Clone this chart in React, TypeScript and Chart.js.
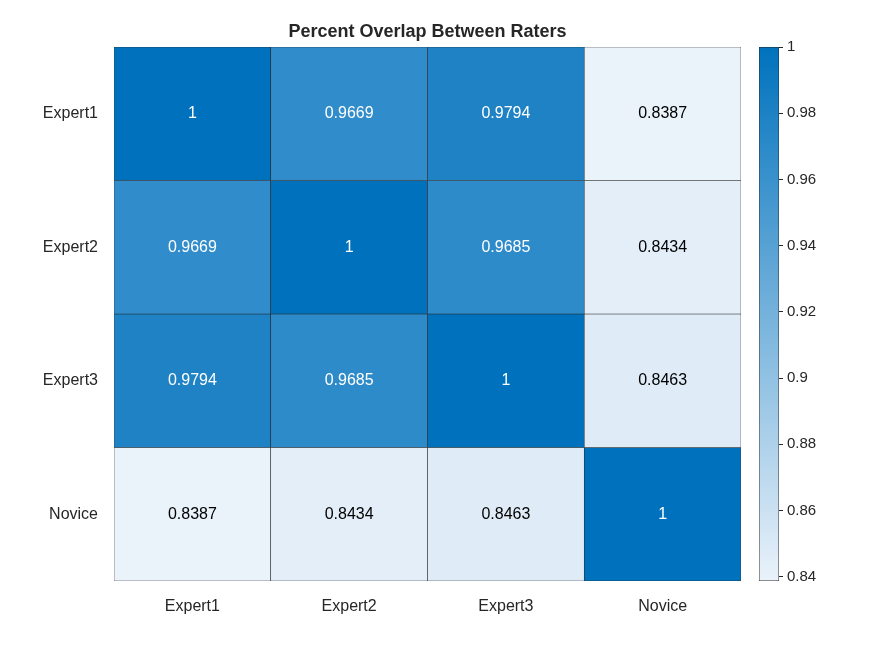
import React, { useEffect, useRef } from "react";
import Chart from "chart.js/auto";

const raters = ["Expert1", "Expert2", "Expert3", "Novice"];
const overlap = [
  [1, 0.9669, 0.9794, 0.8387],
  [0.9669, 1, 0.9685, 0.8434],
  [0.9794, 0.9685, 1, 0.8463],
  [0.8387, 0.8434, 0.8463, 1],
];
const barTicks = [0.84, 0.86, 0.88, 0.9, 0.92, 0.94, 0.96, 0.98, 1];
const cMin = 0.8387;
const cMax = 1;

const lo = [234, 242, 250];
const hi = [0, 114, 189];
function colorFor(v: number) {
  const t = Math.max(0, Math.min(1, (v - cMin) / (cMax - cMin)));
  const c = lo.map((l, i) => Math.round(l + (hi[i] - l) * t));
  return `rgb(${c[0]},${c[1]},${c[2]})`;
}

const FONT = "'Liberation Sans', Arial, sans-serif";

const App: React.FC = () => {
  const mainRef = useRef<HTMLCanvasElement>(null);
  const barRef = useRef<HTMLCanvasElement>(null);

  useEffect(() => {
    let main: Chart | null = null;
    let bar: Chart | null = null;
    if (mainRef.current && barRef.current) {
      const labelPlugin = {
        id: "cellLabels",
        afterDatasetsDraw(chart: any) {
          const ctx = chart.ctx;
          ctx.save();
          ctx.font = `16px ${FONT}`;
          ctx.textAlign = "center";
          ctx.textBaseline = "middle";
          chart.data.datasets.forEach((ds: any, r: number) => {
            chart.getDatasetMeta(r).data.forEach((el: any, c: number) => {
              const v = overlap[r][c];
              ctx.fillStyle = v > 0.9 ? "#ffffff" : "#000000";
              const yc = (el.y + el.base) / 2;
              ctx.fillText(String(v), el.x, yc);
            });
          });
          ctx.font = `bold 18px ${FONT}`;
          ctx.fillStyle = "#262626";
          ctx.fillText("Percent Overlap Between Raters", (chart.chartArea.left + chart.chartArea.right) / 2, 32);
          ctx.restore();
        },
      };
      main = new Chart(mainRef.current, {
        type: "bar",
        data: {
          labels: raters,
          datasets: overlap.map((row, r) => ({
            label: raters[r],
            data: row.map(() => [r, r + 1]) as any,
            backgroundColor: row.map(colorFor),
            borderColor: "#262626",
            borderWidth: 0.6,
            borderSkipped: false,
            barPercentage: 1,
            categoryPercentage: 1,
            grouped: false,
          })),
        },
        options: {
          animation: false,
          responsive: false,
          layout: { padding: { top: 47, right: 134, left: 0, bottom: 0 } },
          plugins: { legend: { display: false }, tooltip: { enabled: false }, title: { display: false } },
          scales: {
            x: {
              grid: { display: false },
              border: { display: false },
              ticks: { color: "#262626", font: { family: FONT, size: 16 }, padding: 8 },
              afterFit: (s: any) => { s.height = 75; },
            },
            y: {
              type: "linear",
              min: 0,
              max: 4,
              reverse: true,
              grid: { display: false },
              border: { display: false },
              afterBuildTicks: (s: any) => { s.ticks = [0.5, 1.5, 2.5, 3.5].map((v) => ({ value: v })); },
              ticks: {
                color: "#262626",
                font: { family: FONT, size: 16 },
                padding: 8,
                callback: (v: any) => raters[Math.floor(Number(v))],
              },
              afterFit: (s: any) => { s.width = 114; },
            },
          },
        },
        plugins: [labelPlugin],
      });

      bar = new Chart(barRef.current, {
        type: "bar",
        data: {
          labels: ["c"],
          datasets: [{
            data: [[cMin, cMax]] as any,
            backgroundColor: (ctx: any) => {
              const a = ctx.chart.chartArea;
              if (!a) return colorFor(cMax);
              const g = ctx.chart.ctx.createLinearGradient(0, a.bottom, 0, a.top);
              g.addColorStop(0, colorFor(cMin));
              g.addColorStop(1, colorFor(cMax));
              return g;
            },
            borderColor: "#262626",
            borderWidth: 0.8,
            borderSkipped: false,
            barPercentage: 1,
            categoryPercentage: 1,
          }],
        },
        options: {
          animation: false,
          responsive: false,
          layout: { padding: { top: 47, left: 759, right: 0, bottom: 0 } },
          plugins: { legend: { display: false }, tooltip: { enabled: false } },
          scales: {
            x: { display: false, afterFit: (s: any) => { s.height = 75; } },
            y: {
              position: "right",
              min: cMin,
              max: cMax,
              grid: { display: true, drawOnChartArea: false, tickLength: 4, color: "#262626" },
              border: { display: false },
              afterBuildTicks: (s: any) => { s.ticks = barTicks.map((v) => ({ value: v })); },
              ticks: { color: "#262626", font: { family: FONT, size: 15 }, padding: 4, callback: (v: any) => String(Number(v)) },
              afterFit: (s: any) => { s.width = 96; },
            },
          },
        },
      });
    }
    return () => {
      if (main) main.destroy();
      if (bar) bar.destroy();
    };
  }, []);

  return (
    <div style={{ position: "absolute", left: 0, top: 0, width: 875, height: 656, background: "#fff" }}>
      <canvas ref={mainRef} width={875} height={656} style={{ position: "absolute", left: 0, top: 0 }} />
      <canvas ref={barRef} width={875} height={656} style={{ position: "absolute", left: 0, top: 0, pointerEvents: "none" }} />
    </div>
  );
};

export default App;
